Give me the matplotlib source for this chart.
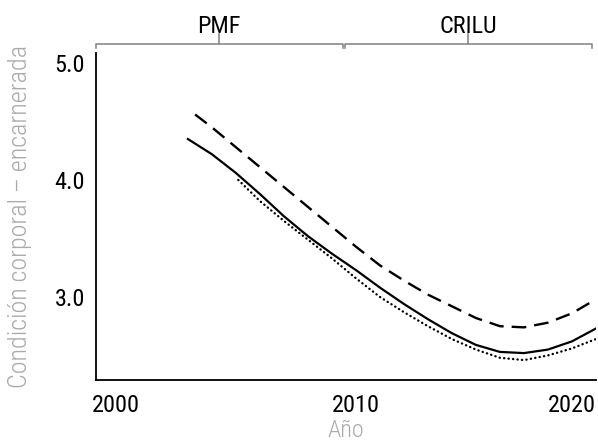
import matplotlib
matplotlib.use("Agg")
import matplotlib.pyplot as plt
import matplotlib.transforms as mtransforms

plt.rcParams["font.family"] = ["Roboto Condensed", "DejaVu Sans"]

# ==========================================
# DATA
# ==========================================

solid_years = [2003, 2004, 2005, 2006, 2007, 2008, 2009, 2010, 2011, 2012,
               2013, 2014, 2015, 2016, 2017, 2018, 2019, 2020]
solid_vals = [4.35, 4.22, 4.06, 3.88, 3.69, 3.52, 3.37, 3.23, 3.08, 2.94,
              2.81, 2.69, 2.59, 2.53, 2.52, 2.55, 2.62, 2.73]

dashed_years = [2003.3, 2004, 2005, 2006, 2007, 2008, 2009, 2010, 2011, 2012,
                2013, 2014, 2015, 2016, 2017, 2018, 2019, 2020]
dashed_vals = [4.56, 4.45, 4.28, 4.11, 3.94, 3.77, 3.60, 3.43, 3.27, 3.14,
               3.02, 2.92, 2.82, 2.75, 2.74, 2.78, 2.86, 2.98]

dotted_years = [2005.1, 2006, 2007, 2008, 2009, 2010, 2011, 2012,
                2013, 2014, 2015, 2016, 2017, 2018, 2019, 2020]
dotted_vals = [4.00, 3.82, 3.65, 3.49, 3.33, 3.16, 3.00, 2.87,
               2.75, 2.64, 2.55, 2.48, 2.46, 2.50, 2.56, 2.64]

x_ticks = [2000, 2010, 2020]
y_ticks = [3.0, 4.0, 5.0]

periods = ["PMF", "CRILU"]
period_spans = [(1999.17, 2009.45), (2009.55, 2019.83)]

# ==========================================
# FIGURE
# ==========================================

fig = plt.figure(figsize=(5.98, 4.46), dpi=100)
ax = fig.add_axes([0.1605, 0.148, 0.836, 0.733])

ax.plot(solid_years, solid_vals, color="black", linewidth=1.6)
ax.plot(dashed_years, dashed_vals, color="black", linewidth=1.7,
        dashes=(6.2, 3.4))
ax.plot(dotted_years, dotted_vals, color="black", linewidth=1.7,
        dashes=(0.1, 1.8), dash_capstyle="round")

ax.set_xlim(1999.17, 2020.0)
ax.set_ylim(2.29, 5.085)

ax.set_xticks(x_ticks)
ax.set_xticklabels([str(y) for y in x_ticks])
ax.set_yticks(y_ticks)
ax.set_yticklabels([f"{v:.1f}" for v in y_ticks])
ax.tick_params(length=0, labelsize=17.5, pad=8)
ax.tick_params(axis="x", pad=10)
ax.get_xticklabels()[-1].set_ha("right")

for side in ["top", "right"]:
    ax.spines[side].set_visible(False)
for side in ["left", "bottom"]:
    ax.spines[side].set_linewidth(1.3)

ax.set_xlabel("Año", color="#ababab", fontsize=17.5, fontweight=300)
ax.xaxis.set_label_coords(0.5, -0.153)
ax.xaxis.label.set_va("center")
ax.set_ylabel("Condición corporal – encarnerada", color="#ababab",
              fontsize=18.8, fontweight=300)
ax.yaxis.set_label_coords(-0.152, 0.5)
ax.yaxis.label.set_va("center")

# top brackets for the two periods
trans = mtransforms.blended_transform_factory(ax.transData, ax.transAxes)
bracket_y = 1.027
for name, (x0, x1) in zip(periods, period_spans):
    ax.plot([x0, x0, x1, x1], [bracket_y - 0.012, bracket_y, bracket_y, bracket_y - 0.012],
            color="#8a8a8a", linewidth=1.2, transform=trans, clip_on=False)
    xm = (x0 + x1) / 2
    ax.plot([xm, xm], [bracket_y, bracket_y + 0.03], color="#8a8a8a",
            linewidth=1.2, transform=trans, clip_on=False)
    ax.text(xm, bracket_y + 0.02, name, transform=trans, ha="center",
            va="bottom", fontsize=17.5)

fig.savefig("out.png", dpi=100)
